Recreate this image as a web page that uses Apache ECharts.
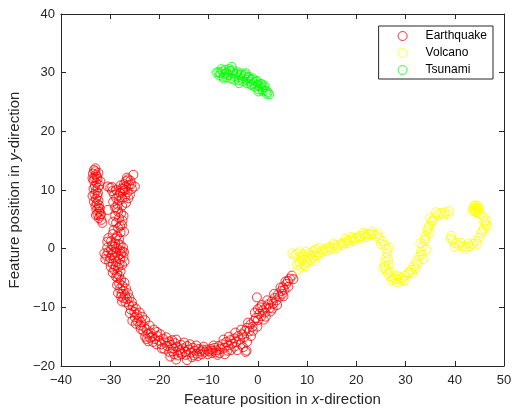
<!DOCTYPE html>
<html>
<head>
<meta charset="utf-8">
<script src="https://cdn.jsdelivr.net/npm/echarts@6/dist/echarts.min.js"></script>
<style>html,body{margin:0;padding:0;background:#fff}#c{width:513px;height:408px}</style>
</head>
<body>
<div id="c"></div>
<script>
const seriesNames = ['Earthquake', 'Volcano', 'Tsunami'];
const xTicks = [-40, 50, 10];
const yTicks = [-20, 40, 10];

const earthquake = [
[-33.3,13.4],[-33.0,13.2],[-33.5,12.8],[-32.9,12.6],[-33.2,12.1],[-32.6,11.9],[-33.4,11.6],[-32.8,11.2],[-33.1,10.7],[-32.5,10.4],[-32.9,9.9],[-33.2,9.3],[-32.6,9.0],[-32.9,8.5],[-33.3,8.0],[-32.7,7.7],[-33.0,7.3],[-32.4,7.0],[-32.8,6.6],[-32.2,6.3],[-32.6,5.9],[-32.0,5.6],[-32.3,5.2],[-31.8,4.9],[-31.6,4.4],[-32.1,6.8],[-32.4,8.2],[-32.2,10.8],[-32.0,11.5],[-32.7,12.3],
[-33.6,12.0],[-33.4,10.2],[-32.5,9.5],[-33.6,9.0],[-32.3,7.4],[-32.9,5.7],[-31.9,5.9],[-33.0,13.7],[-32.4,12.9],
[-30.5,10.6],[-30.0,10.4],[-29.6,9.8],[-29.2,9.2],[-28.8,8.6],[-29.4,8.0],[-28.5,7.5],[-29.0,7.0],[-28.2,8.2],[-28.0,9.5],[-27.6,10.3],[-27.2,11.0],[-26.8,11.5],[-26.4,11.8],[-26.9,10.6],[-27.4,9.8],[-26.2,10.9],[-25.9,11.6],[-25.3,12.6],[-25.0,10.6],[-25.6,10.2],[-26.5,9.6],[-27.0,8.8],[-26.8,7.8],[-27.6,7.3],[-28.4,6.3],[-27.8,6.0],[-29.0,5.6],[-28.2,5.2],[-27.5,4.8],[-28.8,4.4],[-27.6,4.0],[-28.4,3.5],[-29.3,3.2],[-27.9,2.8],[-28.6,2.2],[-29.5,2.5],[-30.5,6.6],[-30.4,1.8],[-29.8,1.3],[-28.2,1.6],[-27.4,10.2],[-28.8,10.0],[-26.0,9.2],
[-27.9,10.8],[-26.6,12.1],[-25.7,11.0],[-27.0,10.0],[-28.3,9.1],[-29.6,10.5],[-26.3,8.6],[-28.6,6.8],[-27.3,5.6],[-29.4,4.6],[-28.0,3.9],[-27.2,2.9],[-28.9,1.8],[-30.6,1.2],[-27.6,8.5],
[-30.8,-1.2],[-31.0,-1.8],[-30.4,-0.6],[-29.8,-0.2],[-29.2,0.3],[-28.6,0.0],[-28.0,-0.3],[-27.4,0.2],[-27.8,-0.9],[-28.4,-1.2],[-29.1,-1.5],[-29.7,-1.1],[-30.2,-2.2],[-29.5,-2.6],[-28.8,-2.3],[-28.0,-1.8],[-27.3,-1.4],[-27.6,-2.8],[-28.4,-3.2],[-29.2,-3.6],[-28.6,-4.3],[-27.9,-3.9],[-29.0,0.9],[-28.3,0.8],[-27.5,-0.5],[-29.4,-0.6],[-30.0,-1.6],
[-31.2,-0.8],[-30.6,0.2],[-29.6,0.6],[-28.8,-0.7],[-27.2,-0.6],[-27.9,0.6],[-28.1,-2.6],[-29.9,-3.1],[-28.9,-3.0],[-27.1,-2.2],[-28.2,-4.6],[-29.5,-4.1],
[-28.5,-5.0],[-27.8,-5.3],[-28.2,-5.9],[-27.5,-6.3],[-28.0,-6.8],[-27.3,-7.2],[-27.7,-7.7],[-27.0,-7.9],[-27.3,-8.4],[-26.6,-8.6],[-26.9,-9.1],[-26.2,-9.6],[-25.4,-9.8],[-25.8,-10.4],[-25.1,-10.8],[-24.6,-11.2],[-25.0,-11.7],[-24.2,-11.9],[-24.5,-12.4],[-23.7,-12.5],[-23.9,-13.1],[-23.1,-13.3],[-22.6,-13.8],[-23.3,-14.0],[-22.4,-14.5],[-22.9,-15.0],[-21.8,-14.3],[-21.5,-15.0],[-20.9,-15.4],[-21.3,-15.9],[-24.8,-12.8],[-26.0,-11.0],[-27.6,-9.0],[-28.8,-4.8],
[-27.1,-5.8],[-28.6,-6.2],[-26.8,-6.8],[-28.4,-7.6],[-26.4,-7.6],[-27.8,-8.2],[-26.1,-8.4],[-25.6,-9.1],[-24.8,-10.2],[-24.0,-10.9],[-23.5,-11.6],[-22.9,-12.2],[-23.8,-13.7],[-22.0,-13.1],[-21.1,-13.8],[-20.5,-14.2],[-22.3,-15.8],[-25.5,-12.3],
[-20.4,-14.9],[-20.0,-15.7],[-19.6,-16.3],[-19.2,-15.4],[-18.8,-16.0],[-18.4,-16.6],[-18.0,-15.8],[-17.6,-16.4],[-17.2,-17.0],[-16.8,-16.1],[-16.4,-16.7],[-16.0,-17.3],[-15.6,-16.4],[-15.2,-17.0],[-14.8,-17.6],[-14.4,-16.6],[-14.0,-17.2],[-13.6,-17.7],[-13.2,-16.9],[-12.8,-17.4],[-12.4,-17.9],[-12.0,-17.1],[-11.6,-17.5],[-11.2,-17.2],[-10.8,-17.6],[-10.4,-17.2],[-10.0,-17.5],[-9.6,-17.1],[-9.2,-17.4],[-8.8,-16.9],[-8.4,-17.3],[-8.0,-16.6],[-7.6,-17.1],[-18.0,-17.6],[-17.0,-18.0],[-17.8,-18.4],[-16.2,-18.2],[-14.4,-19.0],[-13.0,-18.2],[-15.5,-18.0],[-19.5,-17.0],[-21.9,-15.2],[-22.6,-15.4],[-12.5,-16.5],[-11.0,-16.7],[-20.6,-16.3],
[-19.8,-14.6],[-18.6,-15.1],[-17.4,-15.6],[-16.6,-15.5],[-15.0,-16.0],[-13.8,-16.3],[-19.0,-17.1],[-17.4,-17.5],[-15.8,-17.7],[-14.6,-18.1],[-12.2,-18.3],[-11.4,-18.0],[-10.2,-18.0],[-9.4,-17.8],[-8.6,-17.7],[-7.8,-17.8],[-13.4,-18.5],[-16.6,-18.9],
[-7.2,-16.3],[-6.8,-16.9],[-6.4,-15.9],[-6.0,-16.5],[-5.6,-15.6],[-5.2,-16.2],[-4.8,-15.3],[-4.4,-15.9],[-4.0,-14.9],[-3.6,-15.5],[-3.2,-14.6],[-2.8,-15.1],[-2.6,-14.0],[-2.2,-13.5],[-1.8,-14.1],[-1.5,-12.9],[-1.1,-13.3],[-0.8,-12.3],[-0.4,-11.8],[0.0,-12.2],[0.3,-11.1],[0.7,-11.5],[1.0,-10.5],[1.4,-10.9],[1.7,-10.0],[2.1,-9.5],[2.4,-10.1],[2.8,-9.0],[3.1,-9.4],[3.4,-8.4],[3.8,-8.8],[4.1,-7.8],[4.4,-8.2],[4.8,-7.2],[5.1,-6.6],[5.4,-7.0],[5.8,-6.0],[6.1,-5.5],[6.5,-5.1],[6.9,-4.6],[5.0,-7.7],[3.0,-10.2],[0.8,-9.6],[0.0,-10.3],[-0.2,-8.3],[1.6,-11.6],[-6.7,-18.0],[-8.2,-18.1],[-4.2,-17.3],[-2.3,-17.4],[-3.0,-16.8],[-5.5,-17.3],[-9.0,-16.5],[-2.2,-15.9],[-1.0,-14.0],
[-7.0,-15.5],[-5.9,-15.0],[-4.6,-14.3],[-3.4,-13.8],[-2.0,-12.6],[-0.6,-10.9],[0.5,-10.0],[1.9,-8.8],[3.3,-7.7],[4.6,-6.6],[5.6,-5.6],[-6.2,-17.4],[-4.8,-16.7],[-3.5,-16.3],[-1.4,-14.9],[-0.1,-13.3],[1.2,-12.1],[2.6,-10.7],[3.9,-9.6],[5.2,-8.1],[6.2,-6.5],[7.2,-5.2],[-2.5,-17.6]
];

const volcano = [
[7.0,-0.8],[7.8,-0.9],[8.5,-0.6],[9.2,-1.0],[9.8,-0.5],[10.5,-0.8],[11.2,-0.4],[11.8,-0.1],[12.5,0.1],[13.2,-0.3],[13.8,0.0],[14.5,0.3],[15.1,0.2],[15.7,0.6],[16.3,0.5],[16.9,0.9],[17.5,1.0],[18.1,1.3],[18.7,1.4],[19.3,1.7],[19.9,1.8],[20.5,2.1],[21.1,2.2],[21.7,2.4],[22.3,2.5],[22.9,2.5],[23.5,2.4],[24.1,2.2],[24.7,1.8],[25.3,1.3],[25.8,0.6],[26.2,-0.1],[26.3,-0.8],[26.1,-1.5],[25.9,-2.2],[25.8,-2.9],[26.0,-3.6],[26.4,-4.2],[26.9,-4.7],[27.5,-5.0],[28.1,-5.2],[28.7,-5.3],[29.3,-5.0],[29.9,-4.6],[30.5,-4.2],[31.1,-3.6],[31.7,-3.0],[32.2,-2.2],[32.7,-1.4],[33.1,-0.5],[33.5,0.4],[33.8,1.3],[34.1,2.2],[34.4,3.1],[34.8,3.9],[35.3,4.6],[35.9,5.3],[36.6,5.8],[37.3,6.1],[38.0,6.2],[38.6,5.9],
[8.2,-3.6],[8.8,-3.1],[9.4,-2.7],[10.0,-2.3],[10.6,-2.0],[11.2,-1.6],[11.8,-1.2],[12.4,-0.9],[9.0,-2.0],[10.2,-1.5],[8.0,-2.8],
[13.0,-0.6],[14.8,-0.1],[16.0,0.1],[17.2,0.6],[18.4,0.9],[19.6,1.3],[20.8,1.7],[22.0,2.0],[26.6,-2.8],[27.8,-4.5],[28.5,-4.7],[29.4,-5.5],[27.2,-5.4],[30.8,-4.0],[32.4,-2.6],[33.3,-1.0],[34.0,1.6],[34.6,3.5],[35.6,4.8],
[7.5,-1.2],[8.9,-1.3],[10.9,-1.2],[12.1,-0.6],[14.1,-0.4],[15.4,0.9],[17.8,1.7],[19.0,2.0],[21.4,2.7],[23.2,2.9],[24.4,2.6],[25.0,0.8],[26.7,0.2],[26.5,-1.9],[25.5,-3.3],[26.8,-3.9],[28.4,-5.8],[29.8,-5.4],[31.4,-4.2],[32.0,-3.4],[33.6,-1.8],[34.2,-0.2],[33.0,0.9],[34.9,2.7],[35.0,5.2],[36.2,6.2],[37.8,5.8],[38.8,6.4],[8.5,-2.4],[9.7,-3.0],[11.5,-2.1],
[39.3,2.2],[39.6,1.4],[40.2,0.9],[40.9,0.6],[41.6,0.4],[42.3,0.3],[43.0,0.4],[43.7,0.8],[44.3,1.3],[44.9,1.9],[45.4,2.6],[45.9,3.4],[46.3,4.2],[46.4,4.8],[45.9,5.4],[45.2,5.8],[44.7,6.2],[44.0,6.6],[44.4,7.0],[43.9,7.2],[44.6,7.3],[44.2,6.5],[44.5,6.8],[43.8,6.8],[44.8,6.7],[44.1,7.4],[44.3,6.2],[45.0,7.0],[43.6,6.4],
[39.2,1.7],[40.0,0.3],[41.2,1.0],[42.0,-0.1],[42.8,0.9],[44.6,0.8],[45.6,3.0],[46.6,3.8],[46.0,4.6]
];

const tsunami = [
[-8.4,30.0],[-8.0,30.1],[-7.6,29.9],[-7.2,30.2],[-6.8,29.8],[-6.4,30.0],[-6.0,29.6],[-5.6,30.3],[-5.3,31.0],[-5.0,29.9],[-4.7,29.4],[-4.4,29.8],[-4.0,29.2],[-3.6,29.6],[-3.2,29.0],[-2.8,29.4],[-2.4,28.8],[-2.0,29.1],[-1.6,28.5],[-1.2,28.8],[-0.8,28.2],[-0.4,28.5],[0.0,27.9],[0.4,27.7],[0.8,27.2],[1.2,27.5],[1.6,26.9],[2.0,26.7],[2.3,26.3],[-7.0,29.3],[-6.3,29.2],[-5.5,29.0],[-4.8,28.8],[-3.9,28.7],[-3.0,28.5],[-2.2,28.2],[-1.4,27.9],[-0.6,27.6],[0.2,27.1],[1.0,26.9],[-5.8,30.6],[-4.2,30.1],[-3.4,29.9],[-2.6,29.7],[-1.8,29.3],[-1.0,29.0],[-0.2,28.6],[0.6,28.1],[1.4,27.8],[-6.6,30.5],[-7.8,29.5],[0.1,26.8],
[-7.4,30.6],[-5.1,30.4],[-3.8,28.2],[-2.4,29.9],[-1.2,28.0],[0.8,28.0],[1.8,26.4],[-6.9,29.0]
];

const colors = ['#ff0000', '#ffff00', '#00ff00'];
const datasets = [earthquake, volcano, tsunami];

const chart = echarts.init(document.getElementById('c'), null, {renderer: 'canvas'});
const font = "'Liberation Sans', Arial, Helvetica, sans-serif";
const axisColor = '#262626';
const fmt = v => String(v).replace('-', '\u2212');

function mkAxis(pos, ticks, isX, main) {
  return {
    type: 'value', position: pos,
    min: ticks[0], max: ticks[1], interval: ticks[2],
    axisLine: {show: true, onZero: false, lineStyle: {color: axisColor, width: 1}},
    axisTick: {show: true, inside: true, length: 5, lineStyle: {color: axisColor}},
    axisLabel: {show: main, color: axisColor, fontSize: 13, fontFamily: font, margin: isX ? 8 : 6, formatter: fmt},
    splitLine: {show: false},
    name: main ? (isX ? '{a|Feature position in }{i|x}{a|-direction}' : '{a|Feature position in }{i|y}{a|-direction}') : '',
    nameLocation: 'middle',
    nameGap: isX ? 26 : 38,
    nameTextStyle: {
      rich: {
        a: {fontSize: 15, fontFamily: font, color: axisColor},
        i: {fontSize: 15, fontFamily: font, color: axisColor, fontStyle: 'italic'}
      }
    }
  };
}

chart.setOption({
  animation: false,
  backgroundColor: '#ffffff',
  grid: {left: 61, right: 9, top: 14, bottom: 42, containLabel: false, outerBoundsMode: 'none'},
  xAxis: [mkAxis('bottom', xTicks, true, true), mkAxis('top', xTicks, true, false)],
  yAxis: [mkAxis('left', yTicks, false, true), mkAxis('right', yTicks, false, false)],
  legend: {
    orient: 'vertical',
    right: 20, top: 26,
    data: seriesNames,
    itemWidth: 36, itemHeight: 9, itemGap: 5,
    padding: [4, 6, 3, 19],
    borderColor: axisColor, borderWidth: 1, backgroundColor: '#ffffff',
    itemStyle: {borderWidth: 1},
    textStyle: {fontSize: 12, fontFamily: font, color: '#000'}
  },
  series: datasets.map((d, i) => ({
    name: seriesNames[i],
    type: 'scatter',
    data: d,
    symbol: 'circle',
    symbolSize: 9,
    itemStyle: {color: 'rgba(255,255,255,0)', borderColor: colors[i], borderWidth: 1},
    emphasis: {disabled: true}
  }))
});
</script>
</body>
</html>
